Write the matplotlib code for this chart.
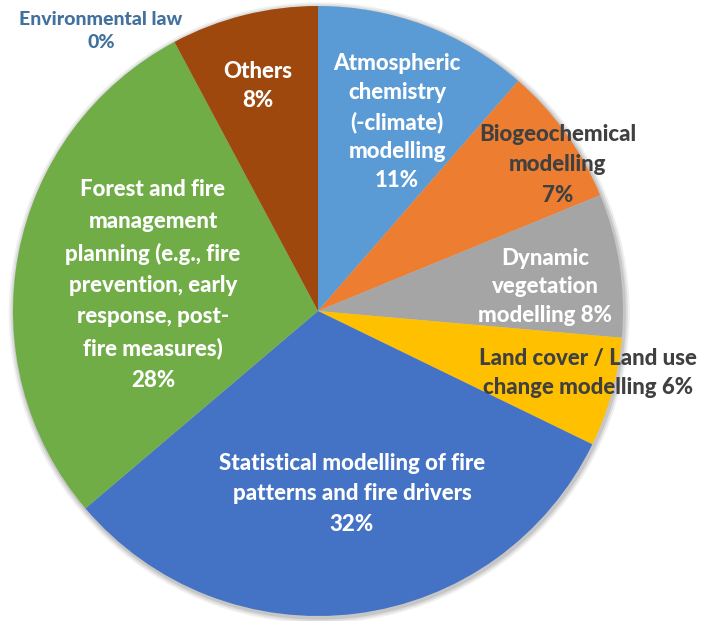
import matplotlib.pyplot as plt
from matplotlib import patches

# wedge sizes (percent), clockwise from 12 o'clock
categories = ["Atmospheric chemistry (-climate) modelling", "Biogeochemical modelling",
              "Dynamic vegetation modelling", "Land cover / Land use change modelling",
              "Statistical modelling of fire patterns and fire drivers",
              "Forest and fire management planning", "Environmental law", "Others"]
shares = [11.4, 7.4, 7.6, 5.8, 31.6, 28.4, 0.0, 7.8]
colors = ["#5B9BD5", "#ED7D31", "#A5A5A5", "#FFC000", "#4472C4", "#70AD47", "#264478", "#9E480E"]

# label texts (last line carries the percentage)
label_texts = [
    "Atmospheric\nchemistry\n(-climate)\nmodelling\n{}%",
    "Biogeochemical\nmodelling\n{}%",
    "Dynamic\nvegetation\nmodelling {}%",
    "Land cover / Land use\nchange modelling {}%",
    "Statistical modelling of fire\npatterns and fire drivers\n{}%",
    "Forest and fire\nmanagement\nplanning (e.g., fire\nprevention, early\nresponse, post-\nfire measures)\n{}%",
    "Environmental law\n{}%",
    "Others\n{}%",
]
# label centres in pixels of the 701x621 picture
label_px = [(397, 122), (558, 165), (545, 287), (588, 373), (352, 494),
            (153, 285), (101, 31), (258, 86)]
label_colors = ["white", "#404040", "white", "#404040", "white", "white", "#41719C", "white"]
label_spacing = [1.47, 1.57, 1.45, 1.43, 1.55, 1.6, 1.45, 1.43]

W, H = 701, 621
CX, CY, R = 318, 311, 305


def px_to_data(px, py):
    return (px - CX) / R, (CY - py) / R


fig = plt.figure(figsize=(W / 100, H / 100), dpi=100)
ax = fig.add_axes([0, 0, 1, 1])
ax.axis('off')

# soft shadow around the pie
for r, a in [(1.018, 0.06), (1.012, 0.08), (1.006, 0.10)]:
    ax.add_patch(patches.Circle((0.004, -0.006), r, color='black', alpha=a, lw=0, zorder=0))

ax.pie(shares, colors=colors, startangle=90, counterclock=False, radius=1,
       wedgeprops=dict(linewidth=0))
ax.set_xlim(-CX / R, (W - CX) / R)
ax.set_ylim(-(H - CY) / R, CY / R)
ax.set_aspect('auto')

for text, share, (px, py), col, ls in zip(label_texts, shares, label_px, label_colors, label_spacing):
    x, y = px_to_data(px, py)
    small = col == "#41719C"
    ax.text(x, y, text.format(round(share)), ha='center', va='center',
            color=col, fontsize=14 if small else 16, fontweight='black', family='Lato',
            linespacing=ls)

fig.savefig("out.png", dpi=100)
